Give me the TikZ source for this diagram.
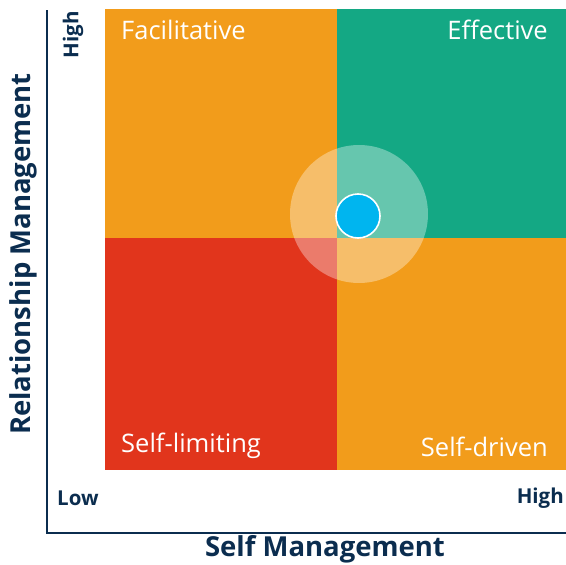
\documentclass[tikz,border=0pt]{standalone}
\usepackage{fontspec}
\setmainfont{Open Sans}
\usetikzlibrary{positioning,calc}
\definecolor{quadorange}{RGB}{242,156,27}
\definecolor{quadgreen}{RGB}{20,168,132}
\definecolor{quadred}{RGB}{225,53,28}
\definecolor{markerblue}{RGB}{0,181,239}
\definecolor{axisnavy}{RGB}{11,45,79}

\begin{document}
\begin{tikzpicture}[x=1pt, y=-1pt,
    quadlabel/.style={text=white, font=\fontsize{25.5}{28}\selectfont, inner sep=0pt},
    axislabel/.style={text=axisnavy, font=\fontsize{27.5}{30}\selectfont\bfseries, inner sep=0pt},
    ticklabel/.style={text=axisnavy, font=\fontsize{20.5}{24}\selectfont\bfseries, inner sep=0pt}]
  \useasboundingbox (0,0) rectangle (566,565);

  \fill[quadorange] (105,9) rectangle (337,238);
  \fill[quadgreen] (337,9) rectangle (566,238);
  \fill[quadred] (105,238) rectangle (337,470);
  \fill[quadorange] (337,238) rectangle (566,470);

  \node[quadlabel, anchor=west] (facil) at (121,30) {Facilitative};
  \node[quadlabel, anchor=east] (effect) at (548,30) {Effective};
  \node[quadlabel, anchor=west] (limit) at (121,446) {Self-limiting};
  \node[quadlabel, anchor=east] (driven) at (548,447) {Self-driven};

  \draw[axisnavy, line width=1.6pt] (47,10) |- (566,533);

  \node[ticklabel, rotate=90] (yhigh) at (73,35) {High};
  \node[ticklabel, anchor=west] (xlow) at (57,498) {Low};
  \node[ticklabel, anchor=east] (xhigh) at (564,498) {High};
  \node[axislabel, rotate=90] (ytitle) at (23,254) {Relationship Management};
  \node[axislabel] (xtitle) at (325,549) {Self Management};

  \fill[white, opacity=0.35] (359,214) circle (69);
  \node[circle, fill=markerblue, draw=white, line width=1.6pt, minimum size=44pt, inner sep=0pt] (marker) at (358,216) {};
\end{tikzpicture}
\end{document}
